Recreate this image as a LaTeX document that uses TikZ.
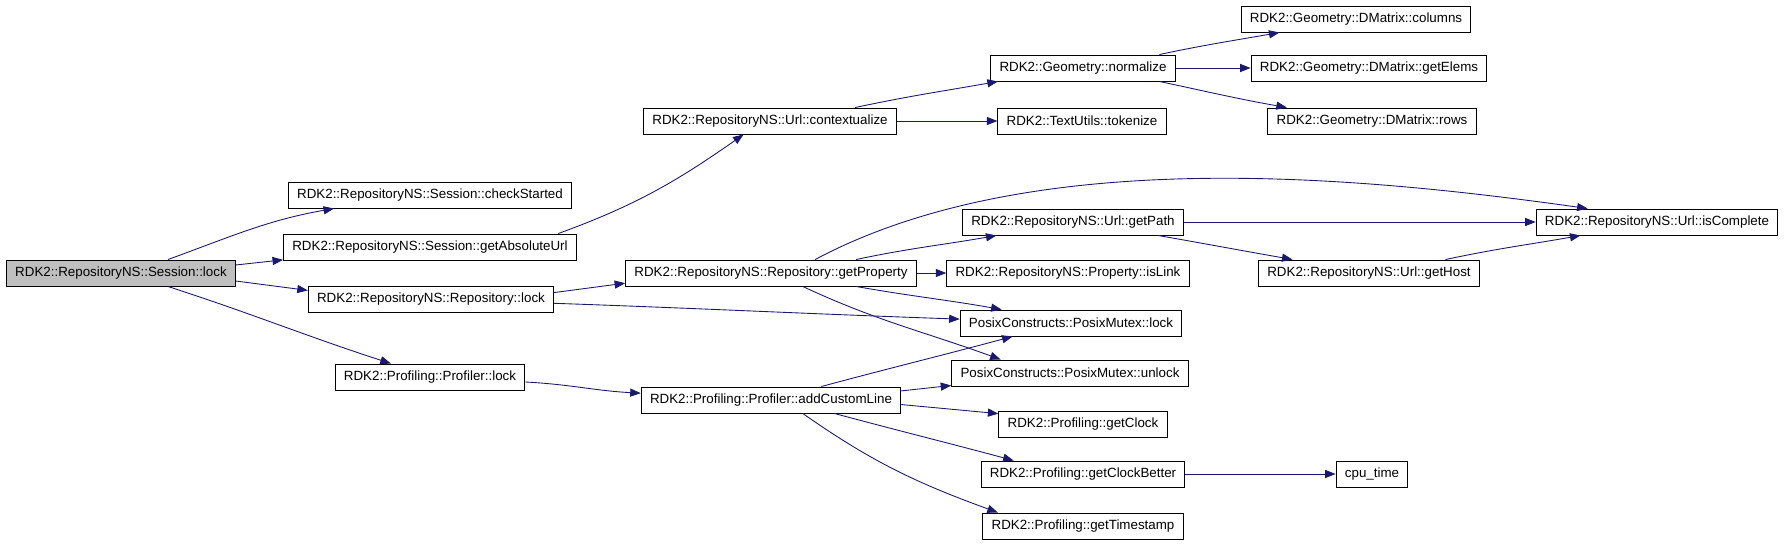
\documentclass[tikz,border=0pt]{standalone}
\usepackage{fontspec}
\setmainfont{Liberation Sans}
\usetikzlibrary{arrows.meta}
\definecolor{edgeblue}{RGB}{25,25,112}
\definecolor{rootgray}{RGB}{191,191,191}
\begin{document}
\begin{tikzpicture}[x=0.02cm,y=-0.02cm,font=\fontsize{7.6}{9}\selectfont,
  fn/.style={draw,line width=0.55pt,inner xsep=5pt,inner ysep=0pt,minimum height=0.52cm},
  call/.style={edgeblue,line width=0.5pt,-{Triangle[length=6pt,width=4.6pt]}}]
\useasboundingbox (0,0) rectangle (1784,544);
% callers on the left
\node[fn,fill=rootgray] (sesslock) at (121,273) {RDK2::RepositoryNS::Session::lock};
\node[fn] (checkstarted) at (430,195) {RDK2::RepositoryNS::Session::checkStarted};
\node[fn] (absurl) at (430,247) {RDK2::RepositoryNS::Session::getAbsoluteUrl};
\node[fn] (replock) at (431,299) {RDK2::RepositoryNS::Repository::lock};
\node[fn] (proflock) at (430,377) {RDK2::Profiling::Profiler::lock};
% middle column
\node[fn] (contextualize) at (770,121) {RDK2::RepositoryNS::Url::contextualize};
\node[fn] (getproperty) at (771,273) {RDK2::RepositoryNS::Repository::getProperty};
\node[fn] (addline) at (771,400) {RDK2::Profiling::Profiler::addCustomLine};
\node[fn] (normalize) at (1083,68) {RDK2::Geometry::normalize};
\node[fn] (tokenize) at (1082,121) {RDK2::TextUtils::tokenize};
\node[fn] (getpath) at (1073,222) {RDK2::RepositoryNS::Url::getPath};
\node[fn] (islink) at (1068,273) {RDK2::RepositoryNS::Property::isLink};
\node[fn] (mutexlock) at (1071,323) {PosixConstructs::PosixMutex::lock};
\node[fn] (mutexunlock) at (1070,373) {PosixConstructs::PosixMutex::unlock};
\node[fn] (getclock) at (1083,424) {RDK2::Profiling::getClock};
\node[fn] (clockbetter) at (1083,474) {RDK2::Profiling::getClockBetter};
\node[fn] (timestamp) at (1083,526) {RDK2::Profiling::getTimestamp};
% right columns
\node[fn] (columns) at (1356,19) {RDK2::Geometry::DMatrix::columns};
\node[fn] (getelems) at (1369,68) {RDK2::Geometry::DMatrix::getElems};
\node[fn] (rows) at (1372,121) {RDK2::Geometry::DMatrix::rows};
\node[fn] (gethost) at (1369,273) {RDK2::RepositoryNS::Url::getHost};
\node[fn] (cputime) at (1372,474) {cpu\_time};
\node[fn] (iscomplete) at (1657,222) {RDK2::RepositoryNS::Url::isComplete};
% calls
\draw[call] (sesslock.16) to[out=20,in=190] (checkstarted.188);
\draw[call] (sesslock.4) -- (absurl.185);
\draw[call] (sesslock.-4) -- (replock.176);
\draw[call] (sesslock.-16) to[out=-18,in=162] (proflock.161);
\draw[call] (absurl.6) to[out=20,in=215] (contextualize.207);
\draw[call] (contextualize.9) to[out=12,in=190] (normalize.189);
\draw[call] (contextualize) -- (tokenize);
\draw[call] (normalize.10) to[out=12,in=190] (columns.190);
\draw[call] (normalize) -- (getelems);
\draw[call] (normalize.-10) to[out=-12,in=170] (rows.171);
\draw[call] (replock.3) -- (getproperty.184);
\draw[call] (replock.-2) to[out=-2,in=178] (mutexlock.178);
\draw[call] (getproperty.9) to[out=12,in=190] (getpath.190);
\draw[call] (getproperty) -- (islink);
\draw[call] (getproperty.-9) to[out=-10,in=170] (mutexlock.169);
\draw[call] (getproperty.-23) to[out=-25,in=160] (mutexunlock.169);
\draw[call] (getproperty.17) to[out=28,in=172,looseness=0.8] (iscomplete.169);
\draw[call] (getpath) -- (iscomplete);
\draw[call] (getpath.-9) to[out=-10,in=170] (gethost.170);
\draw[call] (gethost.10) to[out=12,in=190] (iscomplete.190);
\draw[call] (proflock.-3) to[out=-3,in=177] (addline.177);
\draw[call] (addline.15) to[out=15,in=195] (mutexlock.193);
\draw[call] (addline.4) -- (mutexunlock.186);
\draw[call] (addline.-2) -- (getclock.173);
\draw[call] (addline.-12) to[out=-15,in=165] (clockbetter.169);
\draw[call] (addline.-23) to[out=-35,in=160] (timestamp.171);
\draw[call] (clockbetter) -- (cputime);
\end{tikzpicture}
\end{document}
